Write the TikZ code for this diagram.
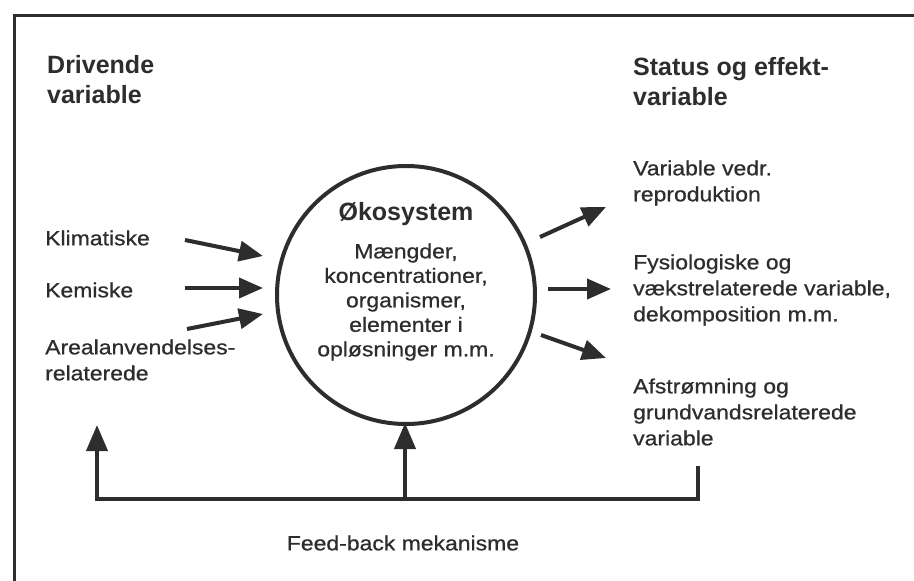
\documentclass[tikz,border=0pt]{standalone}
\usepackage{fontspec}
\setmainfont{Liberation Sans}
\newfontfamily\bodyf{Liberation Sans}[FakeStretch=1.12,FakeBold=0.7]
\usetikzlibrary{arrows.meta}
\definecolor{ink}{RGB}{45,45,45}
\begin{document}
\begin{tikzpicture}[x=1pt,y=-1pt,
  head/.style={font=\fontsize{25}{30}\selectfont\bfseries, text=ink, align=left, inner sep=0pt},
  body/.style={font={\bodyf\fontsize{20.5}{26}\selectfont}, text=ink, align=left, inner sep=0pt},
  arr/.style={draw=ink, line width=4pt, -{Triangle[length=24pt,width=20pt]}},
  fb/.style={draw=ink, line width=3.8pt},
  fbarr/.style={fb, -{Triangle[length=26pt,width=21pt]}},
  frame/.style={draw=ink, line width=3pt}
]
\useasboundingbox[fill=white] (0,0) rectangle (914,581);
% frame
\coordinate (fTL) at (14,15);
\coordinate (fTR) at (914,15);
\coordinate (fBL) at (14,581);
\draw[frame] (fBL) -- (fTL) -- (fTR);

% headings
\node[head, anchor=west] (drv) at (47,80) {Drivende\\variable};
\node[head, anchor=west] (stat) at (633,82) {Status og effekt-\\variable};

% left texts
\node[body, anchor=west] (klim) at (45,238) {Klimatiske};
\node[body, anchor=west] (kem) at (45,290) {Kemiske};
\node[body, anchor=west] (areal) at (45,360) {Arealanvendelses-\\relaterede};

% right texts
\node[body, anchor=west] (repr) at (633,183) {Variable vedr.\\reproduktion};
\node[body, anchor=west] (fys) at (633,290) {Fysiologiske og\\vækstrelaterede variable,\\dekomposition m.m.};
\node[body, anchor=west] (afs) at (633,412) {Afstrømning og\\grundvandsrelaterede\\variable};

% circle
\node[draw=ink, line width=4pt, circle, minimum size=258pt, inner sep=0pt] (eco) at (406,295) {};
\node[head, align=center] (ecot) at (406,214) {Økosystem};
\node[body, align=center, font={\bodyf\fontsize{20.5}{24.5}\selectfont}] (ecob) at (406,302) {Mængder,\\koncentrationer,\\organismer,\\elementer i\\opløsninger m.m.};

% left arrows
\coordinate (l1s) at (185,240); \coordinate (l1e) at (263,256);
\coordinate (l2s) at (185,288); \coordinate (l2e) at (263,288);
\coordinate (l3s) at (187,329); \coordinate (l3e) at (263,314);
\draw[arr] (l1s) -- (l1e);
\draw[arr] (l2s) -- (l2e);
\draw[arr] (l3s) -- (l3e);

% right arrows
\coordinate (r1s) at (540,237); \coordinate (r1e) at (606,207);
\coordinate (r2s) at (548,289); \coordinate (r2e) at (611,289);
\coordinate (r3s) at (541,335); \coordinate (r3e) at (606,358);
\draw[arr] (r1s) -- (r1e);
\draw[arr] (r2s) -- (r2e);
\draw[arr] (r3s) -- (r3e);

% feedback
\coordinate (fbR) at (698,466);
\coordinate (fbRc) at (698,499);
\coordinate (fbLc) at (97,499);
\coordinate (fbLt) at (97,425);
\coordinate (fbM) at (405,499);
\coordinate (fbMt) at (405,423);
\draw[fbarr, line join=miter] (fbR) -- (fbRc) -- (fbLc) -- (fbLt);
\draw[fbarr] (fbM) -- (fbMt);
\node[body, anchor=center] (fbt) at (403,543) {Feed-back mekanisme};
\end{tikzpicture}
\end{document}
